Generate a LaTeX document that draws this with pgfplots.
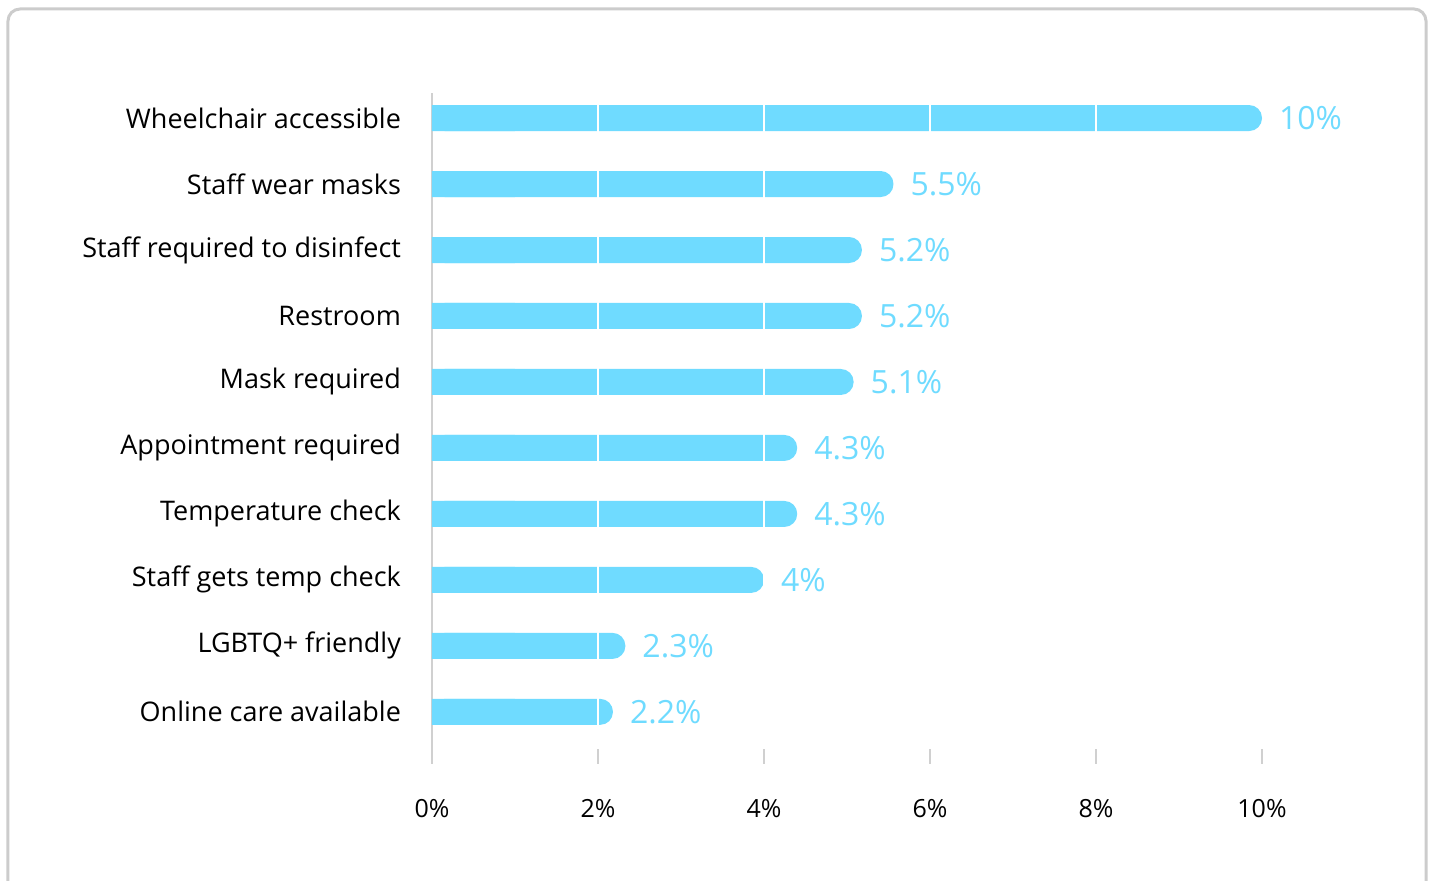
\documentclass[border=0pt]{standalone}
\usepackage{pgfplots}
\usepackage{pgfplotstable}
\pgfplotsset{compat=1.18}
\usepackage{fontspec}
\setmainfont{Open Sans}
\definecolor{barc}{HTML}{6FDBFF}
\definecolor{framec}{HTML}{CCCCCC}
\definecolor{gridc}{HTML}{D0D0D0}
\pgfplotstableread{
pos v lab
9 10 10
8 5.56 5.5
7 5.18 5.2
6 5.18 5.2
5 5.08 5.1
4 4.4 4.3
3 4.4 4.3
2 4 4
1 2.33 2.3
0 2.18 2.2
}\data
\begin{document}
\begin{tikzpicture}
\path[use as bounding box] (-216pt,-58.5pt) rectangle (500.5pt,382pt);
\draw[framec, line width=1.5pt, rounded corners=6pt] (-212pt,-80pt) rectangle (497pt,377.5pt);
\begin{axis}[
  at={(0,0)}, anchor=south west,
  scale only axis, width=415pt, height=335.5pt,
  xmin=0, xmax=10, ymin=-0.79, ymax=9.38,
  axis x line*=bottom, axis y line*=left,
  x axis line style={draw=none,-},
  y axis line style={gridc, line width=0.8pt,-},
  xtick={0,2,4,6,8,10},
  xticklabel={\pgfmathprintnumber{\tick}\%},
  /pgf/number format/assume math mode=true,
  xtick style={gridc, line width=0.8pt},
  major tick length=7.5pt, tick align=inside,
  xticklabel style={font=\fontsize{12.5}{14}\selectfont, text=black, yshift=-14pt},
  ytick={0,...,9},
  yticklabels={Online care available, LGBTQ+ friendly, Staff gets temp check, Temperature check, Appointment required, Mask required, Restroom, Staff required to disinfect, Staff wear masks, Wheelchair accessible},
  ytick style={draw=none},
  yticklabel style={font=\fontsize{13.5}{15}\selectfont, text=black, xshift=-12pt},
  clip=false,
]
\addplot[xbar, bar width=13pt, bar shift=0pt, fill=barc, draw=none, rounded corners=6.4pt,
  point meta=explicit,
  nodes near coords={\pgfmathprintnumber{\pgfplotspointmeta}\%},
  nodes near coords style={text=barc, font=\fontsize{16}{18}\selectfont, anchor=west, xshift=5pt}]
  table[x=v, y=pos, meta=lab]{\data};
\addplot[xbar, bar width=13pt, bar shift=0pt, fill=barc, draw=none]
  table[x expr={min(\thisrow{v},1)}, y=pos]{\data};
\draw[white, line width=1pt] (axis cs:2,-0.5) -- (axis cs:2,9.5);
\draw[white, line width=1pt] (axis cs:4,-0.5) -- (axis cs:4,9.5);
\draw[white, line width=1pt] (axis cs:6,-0.5) -- (axis cs:6,9.5);
\draw[white, line width=1pt] (axis cs:8,-0.5) -- (axis cs:8,9.5);
\end{axis}
\end{tikzpicture}
\end{document}
